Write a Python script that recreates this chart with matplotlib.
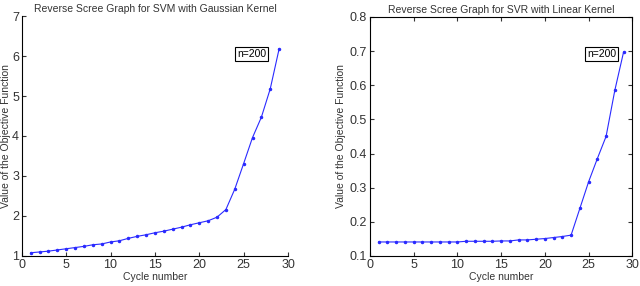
import numpy as np
import matplotlib.pyplot as plt

plt.rcParams['font.family'] = ['Liberation Sans', 'DejaVu Sans']

cycles = np.arange(1, 30)
svm_gauss = [1.08, 1.10, 1.12, 1.15, 1.18, 1.21, 1.24, 1.28, 1.30, 1.35,
             1.38, 1.44, 1.49, 1.53, 1.58, 1.62, 1.67, 1.72, 1.78, 1.83,
             1.88, 1.97, 2.16, 2.67, 3.31, 3.96, 4.47, 5.18, 6.18]
svr_linear = [0.141, 0.141, 0.141, 0.141, 0.141, 0.141, 0.141, 0.141, 0.141, 0.141,
              0.143, 0.143, 0.143, 0.143, 0.144, 0.144, 0.147, 0.147, 0.149, 0.151,
              0.154, 0.157, 0.161, 0.239, 0.317, 0.385, 0.450, 0.585, 0.697]
left_yticks = [1, 2, 3, 4, 5, 6, 7]
right_yticks = [0.1, 0.2, 0.3, 0.4, 0.5, 0.6, 0.7, 0.8]
xticks = [0, 5, 10, 15, 20, 25, 30]

fig = plt.figure(figsize=(6.4, 2.86), dpi=100)
ax1 = fig.add_axes([0.034, 0.105, 0.416, 0.839])
ax2 = fig.add_axes([0.578, 0.105, 0.410, 0.836])

blue = '#2a2aff'
ax1.plot(cycles, svm_gauss, color=blue, lw=0.8, marker='.', ms=3)
ax2.plot(cycles, svr_linear, color=blue, lw=0.8, marker='.', ms=3)

ax1.set_xlim(0, 30)
ax1.set_ylim(1, 7)
ax1.set_yticks(left_yticks)
ax1.spines['top'].set_visible(False)
ax1.spines['right'].set_visible(False)
ax1.tick_params(direction='in', length=3, labelsize=9, pad=2, colors='#333333')
ax1.set_title('Reverse Scree Graph for SVM with Gaussian Kernel', fontsize=7.5, pad=3, color='#333333')
ax1.set_ylabel('Value of the Objective Function', fontsize=7.5, labelpad=1, color='#333333')
ax1.text(25.9, 6.05, 'n=200', fontsize=7.5, ha='center', va='center',
         bbox=dict(boxstyle='square,pad=0.2', fc='white', ec='black', lw=0.8))

ax2.set_xlim(0, 30)
ax2.set_ylim(0.1, 0.8)
ax2.set_yticks(right_yticks)
ax2.set_yticklabels([f'{v:.1f}' for v in right_yticks])
ax2.tick_params(direction='in', length=3, labelsize=9, pad=2, top=True, right=True, colors='#333333')
ax2.set_title('Reverse Scree Graph for SVR with Linear Kernel', fontsize=7.5, pad=3, color='#333333')
ax2.set_ylabel('Value of the Objective Function', fontsize=7.5, labelpad=3, color='#333333')
ax2.text(26.5, 0.692, 'n=200', fontsize=7.5, ha='center', va='center',
         bbox=dict(boxstyle='square,pad=0.2', fc='white', ec='black', lw=0.8))

for ax in (ax1, ax2):
    ax.set_xticks(xticks)
    ax.set_xlabel('Cycle number', fontsize=7.5, labelpad=1, color='#333333')
    for s in ax.spines.values():
        s.set_linewidth(0.8)

fig.savefig('out.png', dpi=100)
